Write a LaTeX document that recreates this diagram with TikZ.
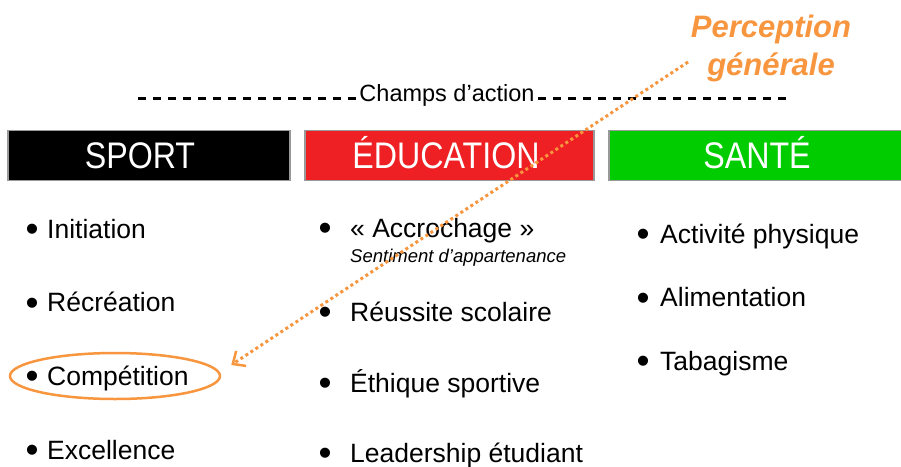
\documentclass[tikz,border=0pt]{standalone}
\usepackage{fontspec}
\usepackage{graphicx}
\setmainfont{Liberation Sans}
\newfontfamily\narrowfont[FakeStretch=0.87]{Liberation Sans}
\usetikzlibrary{shapes, arrows.meta, positioning}
\definecolor{edured}{RGB}{238,32,36}
\definecolor{santegreen}{RGB}{0,204,0}
\definecolor{percorange}{RGB}{247,150,62}
\tikzstyle{header}=[draw=gray!80,line width=1.2pt,rectangle,minimum height=50,text height=26.5pt,text depth=0pt,text=white,font=\narrowfont\fontsize{37}{40}\selectfont]
\tikzstyle{item}=[anchor=base west,inner sep=0,font=\fontsize{26.5}{30}\selectfont]
\newcommand{\puce}[1]{\llap{\raisebox{-3.5pt}{\scalebox{1.4}{\textbullet}}\hspace{#1}}}

\begin{document}
\begin{tikzpicture}[x=1pt,y=-1pt,>=latex]
    \useasboundingbox (0,0) rectangle (901,466);
    % champs d'action
    \node[font=\fontsize{23.5}{26}\selectfont] (champs) at (447,95) {Champs d’action};
    \coordinate (dashl) at (138,98);
    \coordinate (dashr) at (786,98);
    \draw[line width=3pt,dash pattern=on 8pt off 7pt] (dashl) -- (dashl -| champs.west);
    \draw[line width=3pt,dash pattern=on 8pt off 7pt] (dashr -| champs.east) -- (dashr);
    % en-tetes
    \node[header,fill=black,minimum width=282] (sport) at (149,155.5) {SPORT\hspace*{18pt}};
    \node[header,fill=edured,minimum width=289] (educ) at (449.5,155.5) {ÉDUCATION\hspace*{7pt}};
    \node[header,fill=santegreen,minimum width=300] (sante) at (759,155.5) {SANTÉ\hspace*{4pt}};
    % sport
    \node[item] (init) at (47,238) {\puce{8.5pt}Initiation};
    \node[item] (recre) at (47,311.5) {\puce{8.5pt}Récréation};
    \node[item] (compet) at (47,385) {\puce{8.5pt}Compétition};
    \node[item] (excel) at (47,459) {\puce{8.5pt}Excellence};
    % education
    \node[item] (accro) at (350,237) {\puce{18.5pt}« Accrochage »};
    \node[item,font=\itshape\fontsize{18.5}{20}\selectfont] (appart) at (350,262.5) {Sentiment d’appartenance};
    \node[item] (reuss) at (350,321) {\puce{18.5pt}Réussite scolaire};
    \node[item] (ethiq) at (350,392) {\puce{18.5pt}Éthique sportive};
    \node[item] (leader) at (350,462) {\puce{18.5pt}Leadership étudiant};
    % sante
    \node[item] (activ) at (660,243) {\puce{10.5pt}Activité physique};
    \node[item] (alim) at (660,306.5) {\puce{10.5pt}Alimentation};
    \node[item] (tabag) at (660,370) {\puce{10.5pt}Tabagisme};
    % perception generale
    \node[text=percorange,font=\bfseries\itshape\fontsize{31}{36}\selectfont,anchor=base] (perc) at (771,37) {Perception};
    \node[text=percorange,font=\bfseries\itshape\fontsize{31}{36}\selectfont,anchor=base] (percgen) at (771,75) {générale};
    \node[ellipse,draw=percorange,line width=2.5pt,minimum width=210,minimum height=46] (cercle) at (115,376) {};
    \coordinate (depart) at (688,62);
    \draw[percorange,line width=3pt,dash pattern=on 3pt off 3pt,-{Straight Barb[length=10pt,width=18pt,line width=2.5pt]}] (depart) -- ([shift={(10,-11)}]cercle.east);
\end{tikzpicture}
\end{document}
